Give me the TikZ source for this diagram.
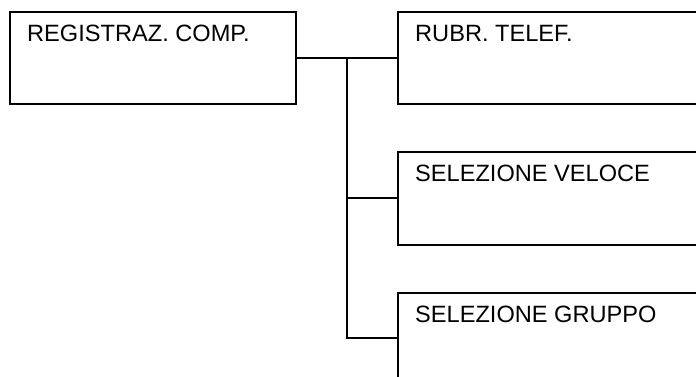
\documentclass[tikz,border=0pt]{standalone}
\usepackage{fontspec}
\setmainfont{Liberation Sans}
\begin{document}
\begin{tikzpicture}[x=1bp,y=-1bp,
  menubox/.style={draw=black, line width=2bp, rectangle, anchor=north west, inner sep=0pt},
  menutext/.style={anchor=base west, inner sep=0pt, font=\fontsize{23.6bp}{28bp}\selectfont},
  wire/.style={draw=black, line width=2bp}]
\useasboundingbox (0,0) rectangle (696,376);
\clip (0,0) rectangle (696,376);
\node[menubox, minimum width=286bp, minimum height=92bp] (reg) at (9,11) {};
\node[menubox, minimum width=400bp, minimum height=92bp] (rub) at (397,11) {};
\node[menubox, minimum width=400bp, minimum height=93bp] (vel) at (397,151) {};
\node[menubox, minimum width=400bp, minimum height=93bp] (grp) at (397,292) {};
\node[menutext] (treg) at ([shift={(18,30)}]reg.north west) {REGISTRAZ. COMP.};
\node[menutext] (trub) at ([shift={(18,30)}]rub.north west) {RUBR. TELEF.};
\node[menutext] (tvel) at ([shift={(18,30)}]vel.north west) {SELEZIONE VELOCE};
\node[menutext] (tgrp) at ([shift={(18,30)}]grp.north west) {SELEZIONE GRUPPO};
\coordinate (bus) at (347,58);
\coordinate (busend) at (347,338);
\draw[wire] (reg.east |- bus) -- (rub.west |- bus);
\draw[wire] (bus) -- (busend) -- (grp.west |- busend);
\draw[wire] (bus |- 0,198) -- (vel.west |- 0,198);
\end{tikzpicture}
\end{document}
